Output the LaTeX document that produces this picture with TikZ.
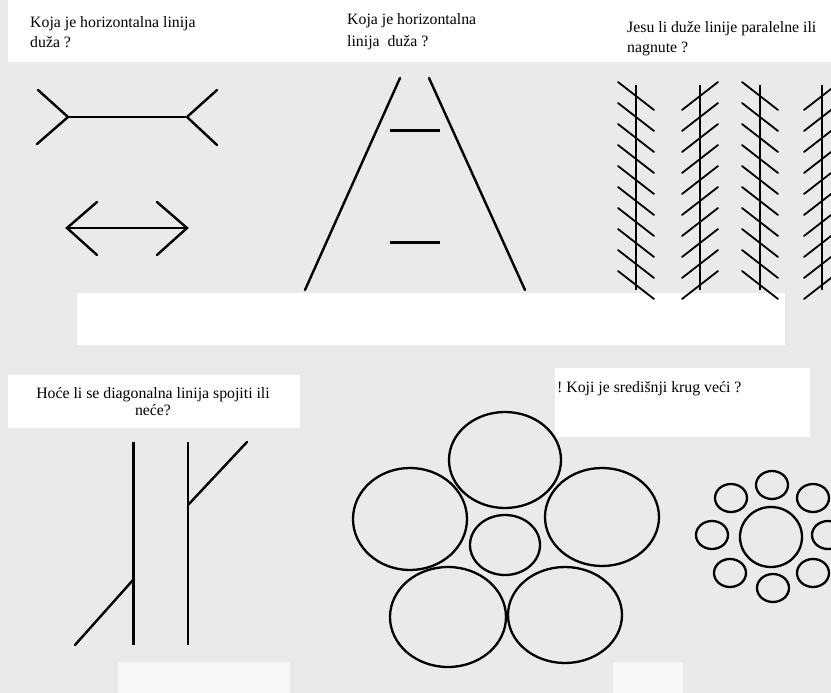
\documentclass[tikz,border=0pt]{standalone}
\usepackage{fontspec}
\setmainfont{Liberation Serif}
\definecolor{bgray}{RGB}{234,234,234}
\begin{document}
\begin{tikzpicture}[x=1pt,y=-1pt,
  ln/.style={line width=2.4pt, line cap=round},
  hatch/.style={line width=1.8pt, line cap=round},
  circ/.style={line width=2.3pt},
  lbl/.style={font=\fontsize{15.8}{19}\selectfont, inner sep=0pt, anchor=base west},
  clbl/.style={font=\fontsize{15.8}{19}\selectfont, inner sep=0pt, anchor=base}]
\useasboundingbox (0,0) rectangle (831,693);
\clip (0,0) rectangle (831,693);
% background (scanned page) and white patches
\fill[bgray] (0,0) rectangle (831,693);
\fill[white] (8,0) rectangle (831,62);
\fill[white] (77,293) rectangle (785,345);
\fill[white] (8,375) rectangle (300,428);
\fill[white] (555,368) rectangle (810,437);
\fill[white!60!bgray] (118,662) rectangle (290,693);
\fill[white!60!bgray] (613,662) rectangle (683,693);

% ---------- Panel 1: Mueller-Lyer ----------
\node[lbl] (t1a) at (30,28) {Koja je horizontalna linija};
\node[lbl] (t1b) at (30,48) {duža ?};
\coordinate (a1) at (68,117);
\coordinate (a2) at (187,117);
\draw[ln] (a1) -- (a2);
\draw[ln] (38,90) -- (a1) -- (37,144);
\draw[ln] (217,90) -- (a2) -- (217,145);
\coordinate (b1) at (67,228);
\coordinate (b2) at (187,228);
\draw[ln] (b1) -- (b2);
\draw[ln] (97,202) -- (b1) -- (97,255);
\draw[ln] (157,202) -- (b2) -- (157,255);

% ---------- Panel 2: Ponzo ----------
\node[lbl] (t2a) at (347,25) {Koja je horizontalna};
\node[lbl] (t2b) at (347,47) {linija\ \ duža ?};
\draw[ln] (400,78) -- (305,290);
\draw[ln] (429,78) -- (525,290);
\draw[line width=3pt] (390,131) -- (440,131);
\draw[line width=3pt] (390,242) -- (440,242);

% ---------- Panel 3: Zoellner ----------
\node[lbl] (t3a) at (627,33) {Jesu li duže linije paralelne ili};
\node[lbl] (t3b) at (627,53) {nagnute ?};
\foreach \x/\s in {636/1, 700/-1, 760/1, 822/-1} {
  \draw[line width=2.6pt] (\x,85) -- (\x,290);
  \foreach \k in {0,...,9} {
    \draw[hatch] ({\x-18},{96+21*\k-14*\s}) -- ({\x+18},{96+21*\k+14*\s});
  }
}

% ---------- Panel 4: Poggendorff ----------
\node[clbl] (t4a) at (153,398) {Hoće li se diagonalna linija spojiti ili};
\node[clbl] (t4b) at (153,415) {neće?};
\draw[line width=3pt] (133,442) -- (133,645);
\draw[line width=2.4pt] (188,442) -- (188,645);
\draw[ln] (75,645) -- (133,580);
\draw[ln] (188,505) -- (247,442);

% ---------- Panel 5: Ebbinghaus (large) ----------
\node[lbl] (t5) at (557,392) {!\ Koji je središnji krug veći ?};
\draw[circ] (505,460) ellipse [x radius=56, y radius=48];
\draw[circ] (410,519) ellipse [x radius=57, y radius=51];
\draw[circ] (602,517) ellipse [x radius=57, y radius=49];
\draw[circ] (448,617) ellipse [x radius=58, y radius=50];
\draw[circ] (565,615) ellipse [x radius=57, y radius=48];
\draw[circ] (505,545) ellipse [x radius=35, y radius=30];

% ---------- Panel 6: Ebbinghaus (small) ----------
\draw[circ] (771,537) ellipse [x radius=31, y radius=30];
\foreach \cx/\cy in {772/485, 731/498, 813/498, 712/535, 828/535, 730/573, 773/588, 813/573} {
  \draw[circ] (\cx,\cy) ellipse [x radius=16, y radius=14];
}
\end{tikzpicture}
\end{document}
